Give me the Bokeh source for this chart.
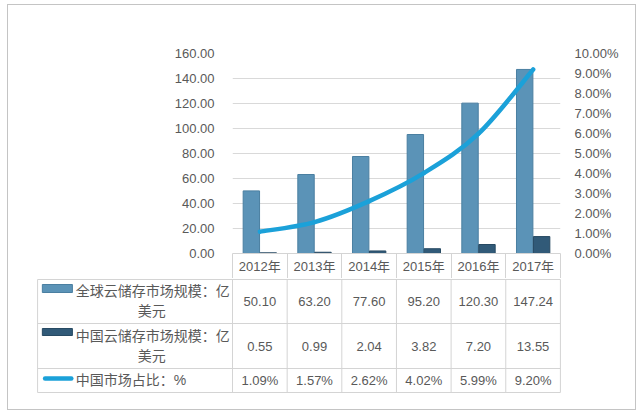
from bokeh.plotting import figure
from bokeh.models import Range1d, LinearAxis, FixedTicker, NumeralTickFormatter
from bokeh.layouts import column
from bokeh.core.properties import value
from bokeh.embed import file_html
from bokeh.resources import INLINE

# ---------------- data ----------------
years = ["2012年", "2013年", "2014年", "2015年", "2016年", "2017年"]
global_size = [50.10, 63.20, 77.60, 95.20, 120.30, 147.24]   # 亿美元
china_size = [0.55, 0.99, 2.04, 3.82, 7.20, 13.55]           # 亿美元
china_share = [1.09, 1.57, 2.62, 4.02, 5.99, 9.20]           # %
left_ticks = [0, 20, 40, 60, 80, 100, 120, 140, 160]
right_ticks = [0, 1, 2, 3, 4, 5, 6, 7, 8, 9, 10]              # %
series_line1 = ["全球云储存市场规模：亿", "中国云储存市场规模：亿", "中国市场占比：%"]
series_line2 = ["美元", "美元", ""]

# ---------------- style ----------------
GLOBAL = "#5b93b7"
GLOBAL_EDGE = "#4a7fa1"
CHINA = "#315a78"
CHINA_EDGE = "#274a63"
LINE = "#1ba1d9"
GRID = "#d9d9d9"
TABLE = "#d4d4d4"
TEXT = "#595959"
FONT = "Liberation Sans, Noto Sans CJK SC"
FS = "13px"
CJK_FS = "14px"

n = len(years)
xc = [i + 0.5 for i in range(n)]
share = [v / 100.0 for v in china_share]

# ---------------- chart (with table header row as x axis) ----------------
p1 = figure(width=627, height=273, x_range=Range1d(0, n), y_range=Range1d(0, 160),
            output_backend="svg", toolbar_location=None,
            min_border_left=224, min_border_right=75, min_border_top=48,
            min_border_bottom=25, outline_line_color=None)
p1.frame_align = False
p1.extra_y_ranges = {"pct": Range1d(0, 0.10)}

lax = p1.left[0]
lax.ticker = FixedTicker(ticks=left_ticks)
lax.formatter = NumeralTickFormatter(format="0.00")
rax = LinearAxis(y_range_name="pct", ticker=FixedTicker(ticks=[t / 100.0 for t in right_ticks]),
                 formatter=NumeralTickFormatter(format="0.00%"))
p1.add_layout(rax, "right")
for ax, so in ((lax, 12), (rax, 8)):
    ax.axis_line_color = None
    ax.major_tick_line_color = None
    ax.minor_tick_line_color = None
    ax.major_label_standoff = so
    ax.major_label_text_font = FONT
    ax.major_label_text_font_size = FS
    ax.major_label_text_color = TEXT

# x axis = header row of the data table
bax = p1.below[0]
bax.ticker = FixedTicker(ticks=xc, minor_ticks=list(range(n + 1)))
bax.major_label_overrides = {x: y for x, y in zip(xc, years)}
bax.major_tick_line_color = None
bax.major_tick_out = 0
bax.major_tick_in = 0
bax.minor_tick_line_color = TABLE
bax.minor_tick_out = 25
bax.minor_tick_in = 0
bax.axis_line_color = TABLE
bax.major_label_standoff = -20
bax.major_label_text_font = FONT
bax.major_label_text_font_size = FS
bax.major_label_text_color = TEXT

p1.ygrid.ticker = FixedTicker(ticks=left_ticks[1:])
p1.ygrid.grid_line_color = GRID
p1.xgrid.visible = False

p1.vbar(x=[x - 0.155 for x in xc], width=0.30, bottom=0, top=global_size,
        fill_color=GLOBAL, line_color=GLOBAL_EDGE, line_width=1)
p1.vbar(x=[x + 0.155 for x in xc], width=0.30, bottom=0, top=china_size,
        fill_color=CHINA, line_color=CHINA_EDGE, line_width=1)

# smoothed line (Catmull-Rom -> cubic Bezier through the data points)
px = xc
py = share
x0, y0, x1, y1, cx0, cy0, cx1, cy1 = [], [], [], [], [], [], [], []
for i in range(n - 1):
    pm = max(i - 1, 0)
    pp = min(i + 2, n - 1)
    x0.append(px[i]); y0.append(py[i])
    x1.append(px[i + 1]); y1.append(py[i + 1])
    cx0.append(px[i] + (px[i + 1] - px[pm]) / 6.0)
    cy0.append(py[i] + (py[i + 1] - py[pm]) / 6.0)
    cx1.append(px[i + 1] - (px[pp] - px[i]) / 6.0)
    cy1.append(py[i + 1] - (py[pp] - py[i]) / 6.0)
p1.bezier(x0=x0, y0=y0, x1=x1, y1=y1, cx0=cx0, cy0=cy0, cx1=cx1, cy1=cy1,
          y_range_name="pct", line_color=LINE, line_width=4.5, line_cap="round")

# ---------------- data table body ----------------
LW = 3.567  # legend column width in category units
p2 = figure(width=627, height=131, x_range=Range1d(-LW - 0.02, n + 0.02), y_range=Range1d(114, -1),
            output_backend="svg", toolbar_location=None, x_axis_location=None,
            y_axis_location=None, min_border_left=28, min_border_right=74,
            min_border_top=0, min_border_bottom=16, outline_line_color=None)
p2.frame_align = False
p2.grid.visible = False

row_edges = [0, 44, 89, 113]
p2.segment(x0=[-LW] * 4, y0=row_edges, x1=[n] * 4, y1=row_edges, line_color=TABLE, line_width=1)
vx = [-LW] + list(range(n + 1))
p2.segment(x0=vx, y0=[row_edges[0]] * len(vx), x1=vx, y1=[row_edges[-1]] * len(vx),
           line_color=TABLE, line_width=1)

vals = [["%.2f" % v for v in global_size], ["%.2f" % v for v in china_size],
        ["%.2f%%" % v for v in china_share]]
row_mid = [(row_edges[k] + row_edges[k + 1]) / 2.0 for k in range(3)]
for k in range(3):
    p2.text(x=xc, y=[row_mid[k]] * n, text=vals[k], text_align="center", text_baseline="middle",
            text_font=value(FONT), text_font_size=FS, text_color=TEXT)

# legend column
sw_l, sw_r = -3.48, -2.93
p2.quad(left=[sw_l], right=[sw_r], top=[5], bottom=[13], fill_color=GLOBAL, line_color=GLOBAL_EDGE)
p2.quad(left=[sw_l], right=[sw_r], top=[49], bottom=[56], fill_color=CHINA, line_color=CHINA_EDGE)
p2.segment(x0=[sw_l + 0.05], y0=[99], x1=[sw_r - 0.02], y1=[99], line_color=LINE,
           line_width=4.5, line_cap="round")
line1_y = [11, 56, 100]
line2_y = [31, 76]
p2.text(x=[-2.87] * 3, y=line1_y, text=series_line1, text_align="left", text_baseline="middle",
        text_font=value(FONT), text_font_size=CJK_FS, text_color=TEXT)
p2.text(x=[-1.48] * 2, y=line2_y, text=series_line2[:2], text_align="center",
        text_baseline="middle", text_font=value(FONT), text_font_size=CJK_FS, text_color=TEXT)

layout = column(p1, p2, styles={"border": "1px solid #c4c4c4", "background-color": "white",
                                "margin-left": "7px", "margin-top": "4px"})
open("out.html", "w").write(file_html(layout, INLINE))
